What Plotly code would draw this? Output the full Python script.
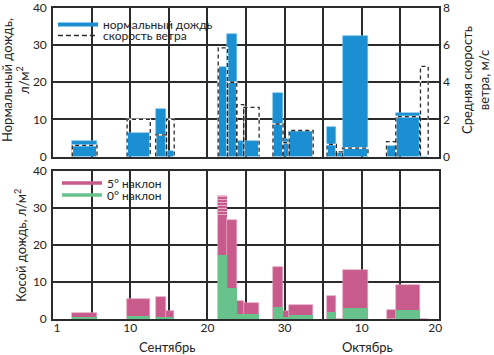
import plotly.graph_objects as go

# Measurement periods: day index (Sep d -> d, Oct d -> 30 + d)
period_start = [2.5, 9.6, 13.3, 14.7, 21.4, 22.6, 23.8, 24.7, 28.5, 29.8, 30.6, 35.5, 36.7, 37.5, 43.2, 44.4, 47.6]
period_end   = [5.7, 12.6, 14.7, 15.7, 22.6, 23.8, 24.7, 26.7, 29.8, 30.6, 33.7, 36.7, 37.5, 40.8, 44.4, 47.5, 48.6]

normal_rain = [4.3, 6.2, 12.8, 1.5, 24.0, 32.9, 4.3, 4.3, 17.1, 4.7, 7.0, 8.0, 1.3, 32.4, 2.9, 11.8, 0.0]
wind_speed  = [0.6, 2.0, 1.17, 2.0, 5.85, 4.0, 2.8, 2.65, 1.75, 0.75, 1.4, 0.65, 0.25, 0.45, 0.8, 2.15, 4.85]

slant_5deg  = [1.5, 5.4, 5.9, 2.2, 33.2, 26.7, 4.9, 4.4, 14.1, 2.2, 3.8, 6.3, 0.0, 13.2, 2.4, 9.2, 0.0]
slant_0deg  = [0.6, 0.8, 0.6, 0.35, 17.3, 8.4, 1.4, 1.4, 3.3, 0.4, 1.1, 1.8, 0.0, 2.9, 0.0, 2.4, 0.0]

# uncertain upper part of the 5° value (hatched)
uncertain_index = 4
uncertain_low = 27.6

tick_vals = [0.5, 10, 20, 30, 40, 49.5]
tick_text = ["1", "10", "20", "30", "10", "20"]
month_labels = ["Сентябрь", "Октябрь"]

BLUE = "#1a8fd1"
PINK = "#c85b8c"
GREEN = "#67c28c"
GRID = "#2b2b2b"
TXT = "#222222"
FONT = "Lato"

centers = [(s + e) / 2 for s, e in zip(period_start, period_end)]
widths = [e - s for s, e in zip(period_start, period_end)]

fig = go.Figure()

# ---- top panel ----
fig.add_trace(go.Bar(x=centers, y=normal_rain, width=widths,
                     marker=dict(color=BLUE, line=dict(width=0.6, color="#6dbbe6")),
                     xaxis="x", yaxis="y", showlegend=False))

ox, oy = [], []
for s, e, w in zip(period_start, period_end, wind_speed):
    ox += [s, s, e, e, None]
    oy += [0, w, w, 0, None]
fig.add_trace(go.Scatter(x=ox, y=oy, mode="lines", line=dict(color="white", width=1.6),
                         xaxis="x", yaxis="y2", showlegend=False, hoverinfo="skip"))
fig.add_trace(go.Scatter(x=ox, y=oy, mode="lines", line=dict(color="#2a2a2a", width=1.3, dash="4px,3px"),
                         xaxis="x", yaxis="y2", showlegend=False, hoverinfo="skip"))

# ---- bottom panel ----
fig.add_trace(go.Bar(x=centers, y=slant_5deg, width=widths,
                     marker=dict(color=PINK, line=dict(width=0.6, color="#e3a3c0")),
                     xaxis="x2", yaxis="y3", showlegend=False))
fig.add_trace(go.Bar(x=[centers[uncertain_index]], y=[slant_5deg[uncertain_index] - uncertain_low],
                     base=[uncertain_low], width=[widths[uncertain_index]],
                     marker=dict(color=PINK, line=dict(width=0),
                                 pattern=dict(shape="-", fgcolor="white", size=3, solidity=0.35, fillmode="overlay")),
                     xaxis="x2", yaxis="y3", showlegend=False))
fig.add_trace(go.Bar(x=centers, y=slant_0deg, width=widths, marker=dict(color=GREEN, line=dict(width=0)),
                     xaxis="x2", yaxis="y3", showlegend=False))
# dummy trace for the label axis
fig.add_trace(go.Scatter(x=[None], y=[None], xaxis="x3", yaxis="y3", showlegend=False))

# ---- legends (line samples) ----
fig.add_trace(go.Scatter(x=[None], y=[None], mode="lines", name="нормальный дождь",
                         line=dict(color=BLUE, width=4), legend="legend", xaxis="x", yaxis="y"))
fig.add_trace(go.Scatter(x=[None], y=[None], mode="lines", name="скорость ветра",
                         line=dict(color="#2a2a2a", width=1.3, dash="5px,3px"), legend="legend2", xaxis="x", yaxis="y"))
fig.add_trace(go.Scatter(x=[None], y=[None], mode="lines", name="5° наклон",
                         line=dict(color=PINK, width=3.5), legend="legend3", xaxis="x2", yaxis="y3"))
fig.add_trace(go.Scatter(x=[None], y=[None], mode="lines", name="0° наклон",
                         line=dict(color=GREEN, width=3.5), legend="legend4", xaxis="x2", yaxis="y3"))

L, R, T, B = 53, 55, 8, 36
W, H = 494, 355
PW, PH = W - L - R, H - T - B

def py(px_y):
    return (H - B - px_y) / PH

def pxx(px_x):
    return (px_x - L) / PW

leg_common = dict(bgcolor="rgba(0,0,0,0)", font=dict(family=FONT, size=12, color=TXT),
                  xanchor="left", yanchor="middle", itemwidth=40, borderwidth=0)

grid = dict(showgrid=True, gridcolor=GRID, gridwidth=1.5, zeroline=False,
            showline=True, linecolor=GRID, linewidth=1.6, mirror=True, ticks="")
tickfont = dict(family=FONT, size=12, color=TXT)

top_dom = [py(156.5), 1]
bot_dom = [0, py(171)]

fig.update_layout(
    width=W, height=H, margin=dict(l=L, r=R, t=T, b=B, autoexpand=False),
    paper_bgcolor="white", plot_bgcolor="white", barmode="overlay", bargap=0,
    font=dict(family=FONT, color=TXT),
    xaxis=dict(domain=[0, 1], anchor="y", range=[0, 50], dtick=5, tick0=0, showticklabels=False, **grid),
    yaxis=dict(domain=top_dom, anchor="x", range=[0, 40], dtick=10, tickfont=tickfont, ticklabelstandoff=2, **grid),
    yaxis2=dict(overlaying="y", anchor="x", side="right", range=[0, 8], dtick=2, showgrid=False,
                zeroline=False, showline=False, ticks="", tickfont=tickfont, ticklabelstandoff=3),
    xaxis2=dict(domain=[0, 1], anchor="y3", range=[0, 50], dtick=5, tick0=0, showticklabels=False, **grid),
    xaxis3=dict(overlaying="x2", anchor="y3", side="bottom", range=[0, 50], tickvals=tick_vals,
                ticktext=tick_text, showgrid=False, zeroline=False, showline=False, ticks="", tickfont=tickfont),
    yaxis3=dict(domain=bot_dom, anchor="x2", range=[0, 40], dtick=10, tickfont=tickfont, ticklabelstandoff=2, **grid),
    legend=dict(x=0.0, y=py(24.5), **leg_common),
    legend2=dict(x=0.0, y=py(35.5), **leg_common),
    legend3=dict(x=pxx(57), y=py(183), **leg_common),
    legend4=dict(x=pxx(57), y=py(195), **leg_common),
)

tfont = dict(family=FONT, size=13, color=TXT)
ann = [
    dict(text="Нормальный дождь,<br>л/м<sup>2</sup>", x=0, y=py(80), xshift=15 - L, textangle=-90),
    dict(text="Косой дождь, л/м<sup>2</sup>", x=0, y=py(246), xshift=20 - L, textangle=-90),
    dict(text="Средняя скорость<br>ветра, м/с", x=1, y=py(80), xshift=475 - (W - R), textangle=-90),
    dict(text=month_labels[0], x=pxx(167), y=py(347), textangle=0),
    dict(text=month_labels[1], x=pxx(367), y=py(347), textangle=0),
]
for a in ann:
    fig.add_annotation(xref="paper", yref="paper", xanchor="center", yanchor="middle",
                       showarrow=False, font=tfont, **a)

fig.write_html("out.html", config={"displayModeBar": False},
               post_script="document.body.style.margin='0';document.body.style.padding='0';")
